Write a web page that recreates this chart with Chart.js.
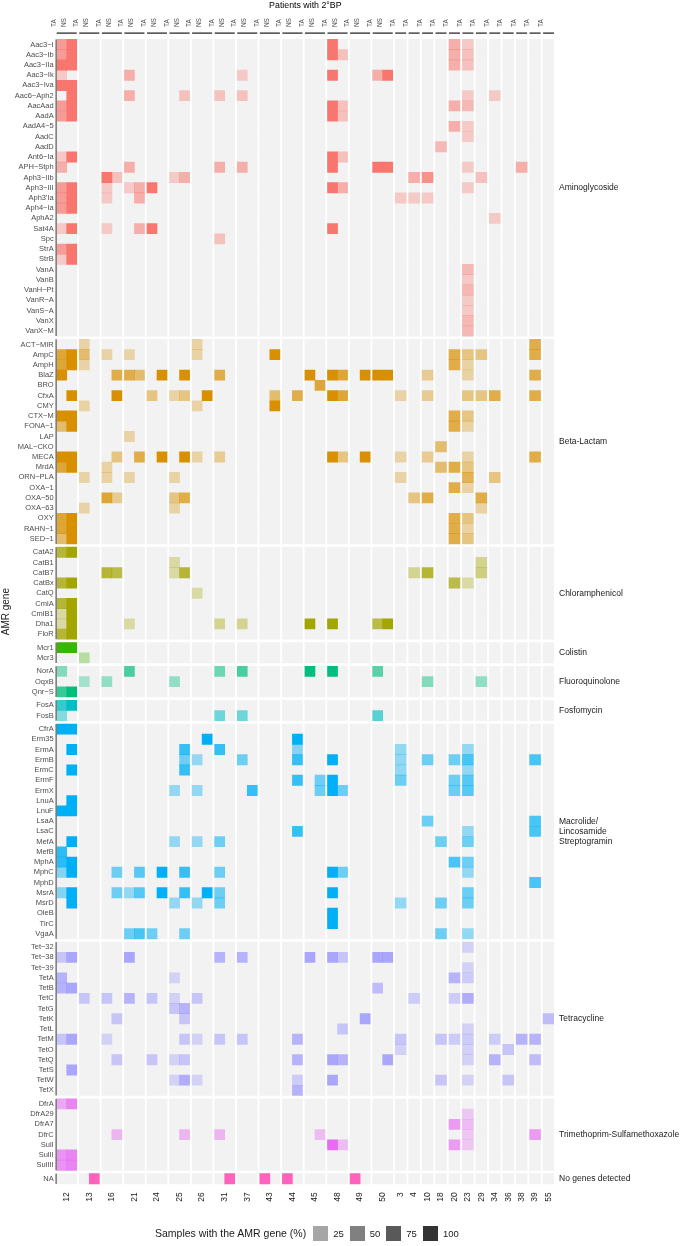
<!DOCTYPE html>
<html lang="en">
<head>
<meta charset="UTF-8">
<title>AMR genes in patients with 2°BP</title>
<script src="https://cdn.jsdelivr.net/npm/chart.js"></script>
<style>
  body { margin: 0; background: #fff; font-family: "Liberation Sans", Arial, sans-serif; }
  #wrap { position: relative; width: 685px; height: 1246px; }
  #legend {
    position: absolute; left: 155px; top: 1225px; height: 16px;
    display: flex; align-items: center; color: #1a1a1a;
  }
  #legend .title { font-size: 10.5px; margin-right: 7px; }
  #legend .key { width: 15px; height: 15px; margin-right: 5px; }
  #legend .lab { font-size: 9.5px; margin-right: 6px; }
</style>
</head>
<body>
<div id="wrap">
  <canvas id="amrChart" width="685" height="1246"></canvas>
  <div id="legend"></div>
</div>

<script>
// ---- data ----
const pairedPatients = ['12','13','16','21','24','25','26','31','37','43','44','45','48','49','50'];
const singlePatients = ['3','4','10','18','20','23','29','34','36','38','39','55'];
const legendSteps = [25, 50, 75, 100];
const legendGreys = ['#A6A6A6', '#808080', '#595959', '#333333'];

const classLabels = [['Aminoglycoside'], ['Beta-Lactam'], ['Chloramphenicol'], ['Colistin'],
  ['Fluoroquinolone'], ['Fosfomycin'], ['Macrolide/', 'Lincosamide', 'Streptogramin'],
  ['Tetracycline'], ['Trimethoprim-Sulfamethoxazole'], ['No genes detected']];
const classColors = ['#F8766D', '#D89000', '#A3A500', '#39B600', '#00BF7D',
  '#00BFC4', '#00B0F6', '#9590FF', '#E76BF3', '#FF62BC'];

const aminoglycosideGenes = ['Aac3-I','Aac3-Ib','Aac3-IIa','Aac3-Ik','Aac3-Iva','Aac6-Aph2','AacAad','AadA',
  'AadA4-5','AadC','AadD','Ant6-Ia','APH-Stph','Aph3-IIb','Aph3-III',"Aph3'Ia",'Aph4-Ia','AphA2','Sat4A',
  'Spc','StrA','StrB','VanA','VanB','VanH-Pt','VanR-A','VanS-A','VanX','VanX-M'];
const betaLactamGenes = ['ACT-MIR','AmpC','AmpH','BlaZ','BRO','CfxA','CMY','CTX-M','FONA-1','LAP','MAL-CKO',
  'MECA','MrdA','ORN-PLA','OXA-1','OXA-50','OXA-63','OXY','RAHN-1','SED-1'];
const chloramphenicolGenes = ['CatA2','CatB1','CatB7','CatBx','CatQ','CmlA','CmlB1','Dha1','FloR'];
const colistinGenes = ['Mcr1','Mcr3'];
const fluoroquinoloneGenes = ['NorA','OqxB','Qnr-S'];
const fosfomycinGenes = ['FosA','FosB'];
const mlsGenes = ['CfrA','Erm35','ErmA','ErmB','ErmC','ErmF','ErmX','LnuA','LnuF','LsaA','LsaC','MefA','MefB',
  'MphA','MphC','MphD','MsrA','MsrD','OleB','TlrC','VgaA'];
const tetracyclineGenes = ['Tet-32','Tet-38','Tet-39','TetA','TetB','TetC','TetG','TetK','TetL','TetM','TetO',
  'TetQ','TetS','TetW','TetX'];
const trimethoprimGenes = ['DfrA','DfrA29','DfrA7','DfrC','SulI','SulII','SulIII'];
const noGenes = ['NA'];

// [gene, patient, sample, % of samples with the gene]
const aminoglycosideHits = [
  ['Aac3-I','12','TA',67], ['Aac3-Ib','12','TA',67], ['Aac3-IIa','12','TA',100], ['Aac3-Ik','12','TA',25],
  ['Aac3-Iva','12','TA',100], ['AacAad','12','TA',67], ['AadA','12','TA',67], ['Ant6-Ia','12','TA',25],
  ['APH-Stph','12','TA',50], ['Aph3-III','12','TA',67], ["Aph3'Ia",'12','TA',67], ['Aph4-Ia','12','TA',67],
  ['Sat4A','12','TA',25], ['StrA','12','TA',67], ['StrB','12','TA',25],
  ['Aac3-I','12','NS',100], ['Aac3-Ib','12','NS',100], ['Aac3-IIa','12','NS',100], ['Aac3-Iva','12','NS',100],
  ['Aac6-Aph2','12','NS',100], ['AacAad','12','NS',100], ['AadA','12','NS',100], ['Ant6-Ia','12','NS',100],
  ['Aph3-III','12','NS',100], ["Aph3'Ia",'12','NS',100], ['Aph4-Ia','12','NS',100], ['Sat4A','12','NS',100],
  ['StrA','12','NS',100], ['StrB','12','NS',100],
  ['Aph3-IIb','16','TA',100], ['Aph3-III','16','TA',25], ["Aph3'Ia",'16','TA',25], ['Sat4A','16','TA',25],
  ['Aph3-IIb','16','NS',33],
  ['Aac3-Ik','21','TA',50], ['Aac6-Aph2','21','TA',50], ['APH-Stph','21','TA',50], ['Aph3-III','21','TA',25],
  ['Aph3-III','21','NS',50], ["Aph3'Ia",'21','NS',50], ['Sat4A','21','NS',50],
  ['Aph3-III','24','TA',100], ['Sat4A','24','TA',100],
  ['Aph3-IIb','25','TA',25], ['Aac6-Aph2','25','NS',33], ['Aph3-IIb','25','NS',50],
  ['Aac6-Aph2','31','TA',33], ['APH-Stph','31','TA',50], ['Spc','31','TA',33],
  ['Aac3-Ik','37','TA',25], ['Aac6-Aph2','37','TA',33], ['APH-Stph','37','TA',50],
  ['Aac3-I','48','TA',100], ['Aac3-Ib','48','TA',100], ['Aac3-Ik','48','TA',100], ['AacAad','48','TA',100],
  ['AadA','48','TA',100], ['Ant6-Ia','48','TA',100], ['APH-Stph','48','TA',100], ['Aph3-III','48','TA',100],
  ['Sat4A','48','TA',100],
  ['Aac3-Ib','48','NS',33], ['AacAad','48','NS',33], ['AadA','48','NS',33], ['Ant6-Ia','48','NS',33],
  ['Aph3-III','48','NS',50],
  ['Aac3-Ik','50','TA',50], ['APH-Stph','50','TA',100], ['Aac3-Ik','50','NS',100], ['APH-Stph','50','NS',100],
  ["Aph3'Ia",'3','TA',25],
  ['Aph3-IIb','4','TA',50], ["Aph3'Ia",'4','TA',25],
  ['Aph3-IIb','10','TA',75], ["Aph3'Ia",'10','TA',25],
  ['AadD','18','TA',40],
  ['Aac3-I','20','TA',50], ['Aac3-Ib','20','TA',50], ['Aac3-IIa','20','TA',50], ['AacAad','20','TA',50],
  ['AadA4-5','20','TA',50],
  ['Aac3-I','23','TA',25], ['Aac3-Ib','23','TA',33], ['Aac3-IIa','23','TA',33], ['Aac6-Aph2','23','TA',25],
  ['AacAad','23','TA',40], ['AadA4-5','23','TA',25], ['AadC','23','TA',25], ['APH-Stph','23','TA',25],
  ['Aph3-III','23','TA',25], ['VanA','23','TA',40], ['VanB','23','TA',25], ['VanH-Pt','23','TA',40],
  ['VanR-A','23','TA',25], ['VanS-A','23','TA',25], ['VanX','23','TA',40], ['VanX-M','23','TA',40],
  ['Aph3-IIb','29','TA',33],
  ['Aac6-Aph2','34','TA',25], ['AphA2','34','TA',25],
  ['APH-Stph','38','TA',50]
];
const betaLactamHits = [
  ['AmpC','12','TA',75], ['AmpH','12','TA',75], ['BlaZ','12','TA',100], ['CTX-M','12','TA',100],
  ['FONA-1','12','TA',50], ['MECA','12','TA',100], ['MrdA','12','TA',75], ['OXY','12','TA',75],
  ['RAHN-1','12','TA',75], ['SED-1','12','TA',50],
  ['AmpC','12','NS',100], ['AmpH','12','NS',100], ['CfxA','12','NS',100], ['CTX-M','12','NS',100],
  ['FONA-1','12','NS',100], ['MECA','12','NS',100], ['MrdA','12','NS',100], ['OXY','12','NS',100],
  ['RAHN-1','12','NS',100], ['SED-1','12','NS',100],
  ['ACT-MIR','13','TA',25], ['AmpC','13','TA',50], ['AmpH','13','TA',25], ['CMY','13','TA',25],
  ['ORN-PLA','13','TA',25], ['OXA-63','13','TA',25],
  ['AmpC','16','TA',25], ['MrdA','16','TA',25], ['ORN-PLA','16','TA',25], ['OXA-50','16','TA',75],
  ['BlaZ','16','NS',67], ['CfxA','16','NS',100], ['MECA','16','NS',40], ['OXA-50','16','NS',33],
  ['AmpC','21','TA',25], ['BlaZ','21','TA',67], ['LAP','21','TA',25], ['ORN-PLA','21','TA',25],
  ['BlaZ','21','NS',50], ['MECA','21','NS',67],
  ['CfxA','24','TA',40], ['BlaZ','24','NS',100], ['MECA','24','NS',100],
  ['CfxA','25','TA',25], ['ORN-PLA','25','TA',25], ['OXA-50','25','TA',40], ['OXA-63','25','TA',25],
  ['BlaZ','25','NS',100], ['CfxA','25','NS',40], ['MECA','25','NS',100], ['OXA-50','25','NS',67],
  ['ACT-MIR','26','TA',25], ['AmpC','26','TA',25], ['CMY','26','TA',25], ['MECA','26','TA',25],
  ['CfxA','26','NS',100],
  ['BlaZ','31','TA',67], ['MECA','31','TA',33],
  ['AmpC','43','NS',100], ['CfxA','43','NS',50], ['CMY','43','NS',100],
  ['CfxA','44','NS',67],
  ['BlaZ','45','TA',100], ['BRO','45','NS',75],
  ['BlaZ','48','TA',100], ['CfxA','48','TA',100], ['MECA','48','TA',100],
  ['BlaZ','48','NS',75], ['CfxA','48','NS',75], ['MECA','48','NS',40],
  ['BlaZ','49','NS',100], ['MECA','49','NS',100],
  ['BlaZ','50','TA',100], ['BlaZ','50','NS',100],
  ['CfxA','3','TA',25], ['MECA','3','TA',25], ['ORN-PLA','3','TA',25],
  ['OXA-50','4','TA',40],
  ['BlaZ','10','TA',33], ['CfxA','10','TA',33], ['MECA','10','TA',33], ['OXA-50','10','TA',67],
  ['MAL-CKO','18','TA',50], ['MrdA','18','TA',50],
  ['AmpC','20','TA',67], ['AmpH','20','TA',67], ['CTX-M','20','TA',67], ['FONA-1','20','TA',67],
  ['MrdA','20','TA',67], ['OXA-1','20','TA',67], ['OXY','20','TA',67], ['RAHN-1','20','TA',67],
  ['SED-1','20','TA',67],
  ['AmpC','23','TA',40], ['AmpH','23','TA',25], ['BlaZ','23','TA',25], ['CfxA','23','TA',40],
  ['CTX-M','23','TA',40], ['FONA-1','23','TA',25], ['MECA','23','TA',25], ['MrdA','23','TA',40],
  ['ORN-PLA','23','TA',60], ['OXA-1','23','TA',25], ['OXY','23','TA',40], ['RAHN-1','23','TA',25],
  ['SED-1','23','TA',40],
  ['AmpC','29','TA',40], ['CfxA','29','TA',40], ['OXA-50','29','TA',67], ['OXA-63','29','TA',25],
  ['CfxA','34','TA',67], ['ORN-PLA','34','TA',40],
  ['ACT-MIR','39','TA',67], ['AmpC','39','TA',67], ['BlaZ','39','TA',67], ['CfxA','39','TA',67],
  ['MECA','39','TA',67]
];
const chloramphenicolHits = [
  ['CatA2','12','TA',75], ['CatBx','12','TA',75], ['CmlA','12','TA',75], ['CmlB1','12','TA',25],
  ['Dha1','12','TA',25], ['FloR','12','TA',75],
  ['CatA2','12','NS',100], ['CatBx','12','NS',100], ['CmlA','12','NS',100], ['CmlB1','12','NS',100],
  ['Dha1','12','NS',100], ['FloR','12','NS',100],
  ['CatB7','16','TA',75], ['CatB7','16','NS',67],
  ['Dha1','21','TA',25],
  ['CatB1','25','TA',25], ['CatB7','25','TA',25], ['CatB7','25','NS',75],
  ['CatQ','26','TA',25],
  ['Dha1','31','TA',33], ['Dha1','37','TA',33],
  ['Dha1','45','TA',100], ['Dha1','48','TA',100],
  ['Dha1','50','TA',67], ['Dha1','50','NS',100],
  ['CatB7','4','TA',33], ['CatB7','10','TA',75],
  ['CatBx','20','TA',67], ['CatBx','23','TA',25],
  ['CatB1','29','TA',33], ['CatB7','29','TA',40]
];
const colistinHits = [
  ['Mcr1','12','TA',100], ['Mcr1','12','NS',100], ['Mcr3','13','TA',25]
];
const fluoroquinoloneHits = [
  ['NorA','12','TA',40], ['Qnr-S','12','TA',75], ['Qnr-S','12','NS',100],
  ['OqxB','13','TA',25], ['OqxB','16','TA',33], ['NorA','21','TA',67], ['OqxB','25','TA',33],
  ['NorA','31','TA',50], ['NorA','37','TA',67], ['NorA','45','TA',100], ['NorA','48','TA',100],
  ['NorA','50','TA',60], ['OqxB','10','TA',40], ['OqxB','29','TA',33]
];
const fosfomycinHits = [
  ['FosA','12','TA',75], ['FosB','12','TA',40], ['FosA','12','NS',100],
  ['FosB','31','TA',50], ['FosB','37','TA',50], ['FosB','50','TA',60]
];
const mlsHits = [
  ['CfrA','12','TA',100], ['LnuF','12','TA',100], ['MefB','12','TA',80], ['MphA','12','TA',80],
  ['MphC','12','TA',40], ['MsrA','12','TA',40],
  ['CfrA','12','NS',100], ['ErmA','12','NS',100], ['ErmC','12','NS',100], ['LnuA','12','NS',100],
  ['LnuF','12','NS',100], ['MefA','12','NS',100], ['MphA','12','NS',100], ['MphC','12','NS',100],
  ['MsrA','12','NS',100], ['MsrD','12','NS',100],
  ['MphC','16','NS',50], ['MsrA','16','NS',50],
  ['MsrA','21','TA',33], ['VgaA','21','TA',50], ['MphC','21','NS',60], ['MsrA','21','NS',60], ['VgaA','21','NS',67],
  ['VgaA','24','TA',50], ['MphC','24','NS',100], ['MsrA','24','NS',100],
  ['ErmX','25','TA',33], ['MefA','25','TA',33], ['MsrD','25','TA',33],
  ['ErmA','25','NS',75], ['ErmB','25','NS',50], ['ErmC','25','NS',75], ['MphC','25','NS',75],
  ['MsrA','25','NS',75], ['VgaA','25','NS',50],
  ['ErmB','26','TA',33], ['ErmX','26','TA',33], ['MefA','26','TA',33], ['MsrD','26','TA',33],
  ['Erm35','26','NS',100], ['MsrA','26','NS',100],
  ['ErmA','31','TA',75], ['MefA','31','TA',50], ['MphC','31','TA',50], ['MsrA','31','TA',50], ['MsrD','31','TA',50],
  ['ErmB','37','TA',50], ['ErmX','37','NS',75],
  ['Erm35','44','NS',100], ['ErmA','44','NS',40], ['ErmB','44','NS',75], ['ErmF','44','NS',75], ['LsaC','44','NS',75],
  ['ErmF','45','NS',50], ['ErmX','45','NS',50],
  ['ErmB','48','TA',100], ['ErmF','48','TA',100], ['ErmX','48','TA',100], ['MphC','48','TA',100],
  ['MsrA','48','TA',100], ['OleB','48','TA',100], ['TlrC','48','TA',100],
  ['ErmX','48','NS',50], ['MphC','48','NS',50],
  ['ErmA','3','TA',33], ['ErmB','3','TA',33], ['ErmC','3','TA',33], ['ErmF','3','TA',50], ['MsrD','3','TA',33],
  ['ErmB','10','TA',50], ['LsaA','10','TA',50],
  ['MefA','18','TA',50], ['MsrD','18','TA',50], ['VgaA','18','TA',50],
  ['ErmB','20','TA',50], ['ErmF','20','TA',50], ['ErmX','20','TA',50], ['MphA','20','TA',67],
  ['ErmA','23','TA',33], ['ErmB','23','TA',67], ['ErmC','23','TA',33], ['ErmF','23','TA',60],
  ['ErmX','23','TA',60], ['LsaC','23','TA',33], ['MefA','23','TA',50], ['MphA','23','TA',50],
  ['MphC','23','TA',33], ['MsrA','23','TA',50], ['MsrD','23','TA',50], ['VgaA','23','TA',33],
  ['ErmB','39','TA',67], ['LsaA','39','TA',67], ['LsaC','39','TA',67], ['MphD','39','TA',67]
];
const tetracyclineHits = [
  ['Tet-38','12','TA',40], ['TetA','12','TA',60], ['TetB','12','TA',60], ['TetM','12','TA',40],
  ['Tet-38','12','NS',75], ['TetB','12','NS',75], ['TetM','12','NS',75], ['TetS','12','NS',75],
  ['TetC','13','TA',40],
  ['TetC','16','TA',40], ['TetM','16','TA',25], ['TetK','16','NS',40], ['TetQ','16','NS',40],
  ['Tet-38','21','TA',75], ['TetC','21','TA',60],
  ['TetC','24','TA',40], ['TetQ','24','TA',40],
  ['TetA','25','TA',25], ['TetC','25','TA',25], ['TetG','25','TA',40], ['TetQ','25','TA',25], ['TetW','25','TA',25],
  ['TetG','25','NS',60], ['TetK','25','NS',40], ['TetM','25','NS',40], ['TetQ','25','NS',40], ['TetW','25','NS',67],
  ['TetC','26','TA',40], ['TetM','26','TA',25], ['TetW','26','TA',25],
  ['Tet-38','31','TA',60], ['TetM','31','TA',40],
  ['Tet-38','37','TA',60], ['TetM','37','TA',40],
  ['TetM','44','NS',60], ['TetQ','44','NS',60], ['TetW','44','NS',33], ['TetX','44','NS',60],
  ['Tet-38','45','TA',75],
  ['Tet-38','48','TA',75], ['TetQ','48','TA',75], ['TetW','48','TA',75],
  ['Tet-38','48','NS',40], ['TetL','48','NS',40], ['TetQ','48','NS',60],
  ['TetK','49','NS',75],
  ['Tet-38','50','TA',75], ['TetB','50','TA',50], ['Tet-38','50','NS',75], ['TetQ','50','NS',75],
  ['TetM','3','TA',40], ['TetO','3','TA',25],
  ['TetC','4','TA',33],
  ['TetM','18','TA',40], ['TetW','18','TA',40],
  ['TetA','20','TA',60], ['TetC','20','TA',33], ['TetM','20','TA',33],
  ['Tet-32','23','TA',25], ['Tet-39','23','TA',25], ['TetA','23','TA',33], ['TetC','23','TA',67],
  ['TetL','23','TA',25], ['TetM','23','TA',33], ['TetO','23','TA',25], ['TetQ','23','TA',25], ['TetW','23','TA',25],
  ['TetM','34','TA',33], ['TetQ','34','TA',60],
  ['TetO','36','TA',40], ['TetW','36','TA',40],
  ['TetM','38','TA',60],
  ['TetM','39','TA',60], ['TetQ','39','TA',50],
  ['TetK','55','TA',50]
];
const trimethoprimHits = [
  ['DfrA','12','TA',50], ['SulII','12','TA',67], ['SulIII','12','TA',67],
  ['DfrA','12','NS',80], ['SulII','12','NS',80], ['SulIII','12','NS',80],
  ['DfrC','16','NS',40], ['DfrC','25','NS',40], ['DfrC','31','TA',40], ['DfrC','45','NS',33],
  ['SulI','48','TA',100], ['SulI','48','NS',33],
  ['DfrA7','20','TA',60], ['SulI','20','TA',60],
  ['DfrA29','23','TA',25], ['DfrA7','23','TA',33], ['DfrC','23','TA',25], ['SulI','23','TA',25],
  ['DfrC','39','TA',60]
];
const noGeneHits = [
  ['NA','13','NS',100], ['NA','31','NS',100], ['NA','43','TA',100], ['NA','44','TA',100], ['NA','49','TA',100]
];

const geneLists = [aminoglycosideGenes, betaLactamGenes, chloramphenicolGenes, colistinGenes,
  fluoroquinoloneGenes, fosfomycinGenes, mlsGenes, tetracyclineGenes, trimethoprimGenes, noGenes];
const hitLists = [aminoglycosideHits, betaLactamHits, chloramphenicolHits, colistinHits,
  fluoroquinoloneHits, fosfomycinHits, mlsHits, tetracyclineHits, trimethoprimHits, noGeneHits];

// ---- layout in axis units ----
const PAIR_COL = 1, SINGLE_COL = 1.09, PANEL_GAP = 0.25, GROUP_GAP = 0.32;

const columns = [];
const panels = [];
let xPos = 0;
pairedPatients.forEach(p => {
  panels.push({ patient: p, left: xPos, right: xPos + 2 * PAIR_COL });
  ['TA', 'NS'].forEach((s, k) => {
    columns.push({ patient: p, sample: s, left: xPos + k * PAIR_COL, right: xPos + (k + 1) * PAIR_COL });
  });
  xPos += 2 * PAIR_COL + PANEL_GAP;
});
singlePatients.forEach(p => {
  panels.push({ patient: p, left: xPos, right: xPos + SINGLE_COL });
  columns.push({ patient: p, sample: 'TA', left: xPos, right: xPos + SINGLE_COL });
  xPos += SINGLE_COL + PANEL_GAP;
});
const xMax = xPos - PANEL_GAP;

const rows = [];
const groups = [];
let yPos = 0;
geneLists.forEach((genes, ci) => {
  const g = { first: yPos, label: classLabels[ci] };
  genes.forEach(name => { rows.push({ gene: name, pos: yPos, cls: ci }); yPos += 1; });
  g.last = yPos - 1;
  groups.push(g);
  yPos += GROUP_GAP;
});
const lastRow = rows[rows.length - 1].pos;

function shade(hex, pct) {
  const a = 0.1 + 0.9 * pct / 100;
  const r = parseInt(hex.slice(1, 3), 16), g = parseInt(hex.slice(3, 5), 16), b = parseInt(hex.slice(5, 7), 16);
  return `rgba(${r},${g},${b},${a.toFixed(3)})`;
}

// grey panel background, one bar per row and patient
const bgData = [];
rows.forEach(r => panels.forEach(p => bgData.push({ y: r.pos, x: [p.left, p.right] })));

const datasets = [{
  label: 'background', data: bgData, backgroundColor: '#F2F2F2', order: 2
}];
hitLists.forEach((hits, ci) => {
  const data = [], colors = [];
  hits.forEach(([gene, patient, sample, pct]) => {
    const row = rows.find(r => r.cls === ci && r.gene === gene);
    const col = columns.find(c => c.patient === patient && c.sample === sample);
    data.push({ y: row.pos, x: [col.left, col.right] });
    colors.push(shade(classColors[ci], pct));
  });
  datasets.push({ label: classLabels[ci].join(' '), data, backgroundColor: colors, order: 1 });
});

// ---- decorations: segmented axis lines, facet labels, title ----
const decor = {
  id: 'decor',
  afterDraw(chart) {
    const { ctx, chartArea, scales: { x, y } } = chart;
    ctx.save();
    ctx.strokeStyle = '#1a1a1a';
    ctx.lineWidth = 1.2;
    panels.forEach(p => {
      ctx.beginPath();
      ctx.moveTo(x.getPixelForValue(p.left), chartArea.top - 1);
      ctx.lineTo(x.getPixelForValue(p.right), chartArea.top - 1);
      ctx.stroke();
    });
    ctx.strokeStyle = '#333';
    ctx.lineWidth = 1;
    groups.forEach(g => {
      ctx.beginPath();
      ctx.moveTo(chartArea.left - 0.6, y.getPixelForValue(g.first - 0.5));
      ctx.lineTo(chartArea.left - 0.6, y.getPixelForValue(g.last + 0.5));
      ctx.stroke();
    });

    ctx.fillStyle = '#1a1a1a';
    ctx.font = '8.5px "Liberation Sans", Arial, sans-serif';
    ctx.textAlign = 'left';
    ctx.textBaseline = 'middle';
    groups.forEach(g => {
      const mid = y.getPixelForValue((g.first + g.last) / 2);
      g.label.forEach((line, i) => {
        ctx.fillText(line, chartArea.right + 5, mid + (i - (g.label.length - 1) / 2) * 10);
      });
    });

    ctx.fillStyle = '#000';
    ctx.font = '8.8px "Liberation Sans", Arial, sans-serif';
    ctx.textAlign = 'center';
    ctx.fillText('Patients with 2°BP', (chartArea.left + chartArea.right) / 2, 5.5);
    ctx.restore();
  }
};

Chart.defaults.font.family = '"Liberation Sans", Arial, sans-serif';

new Chart(document.getElementById('amrChart'), {
  type: 'bar',
  data: { datasets },
  options: {
    indexAxis: 'y',
    responsive: false,
    animation: false,
    events: [],
    layout: { padding: { left: 0, right: 131, top: 0, bottom: 34.8 } },
    datasets: { bar: { grouped: false, categoryPercentage: 1, barPercentage: 1, borderWidth: 0 } },
    plugins: { legend: { display: false }, tooltip: { enabled: false } },
    scales: {
      x: {
        type: 'linear', position: 'top', min: 0, max: xMax,
        grid: { display: false, drawTicks: false }, border: { display: false },
        afterBuildTicks: s => { s.ticks = columns.map(c => ({ value: (c.left + c.right) / 2 })); },
        afterFit: s => { s.height = 34.1; },
        ticks: {
          autoSkip: false, minRotation: 90, maxRotation: 90, padding: 7,
          color: '#4d4d4d', font: { size: 6.5 },
          callback: (v, i) => columns[i].sample
        }
      },
      x2: {
        type: 'linear', position: 'bottom', min: 0, max: xMax,
        grid: { display: false, drawTicks: false }, border: { display: false },
        afterBuildTicks: s => { s.ticks = panels.map(p => ({ value: (p.left + p.right) / 2 })); },
        afterFit: s => { s.height = 22; },
        ticks: {
          autoSkip: false, minRotation: 90, maxRotation: 90, padding: 3,
          color: '#1a1a1a', font: { size: 8.5 },
          callback: (v, i) => panels[i].patient
        }
      },
      y: {
        type: 'linear', reverse: true, min: -0.5, max: lastRow + 0.5,
        grid: { display: false, drawTicks: false }, border: { display: false },
        afterBuildTicks: s => { s.ticks = rows.map(r => ({ value: r.pos })); },
        afterFit: s => { s.width = 56.7; },
        title: { display: true, text: 'AMR gene', color: '#1a1a1a', font: { size: 10 }, padding: { top: 0, bottom: 0 } },
        ticks: {
          autoSkip: false, padding: 3, color: '#4d4d4d', font: { size: 7.5 },
          callback: (v, i) => rows[i].gene.replace(/-/g, '\u2212')
        }
      }
    }
  },
  plugins: [decor]
});

// ---- legend ----
const legend = document.getElementById('legend');
legend.innerHTML = '<span class="title">Samples with the AMR gene (%)</span>' +
  legendSteps.map((v, i) => `<span class="key" style="background:${legendGreys[i]}"></span><span class="lab">${v}</span>`).join('');
</script>
</body>
</html>
